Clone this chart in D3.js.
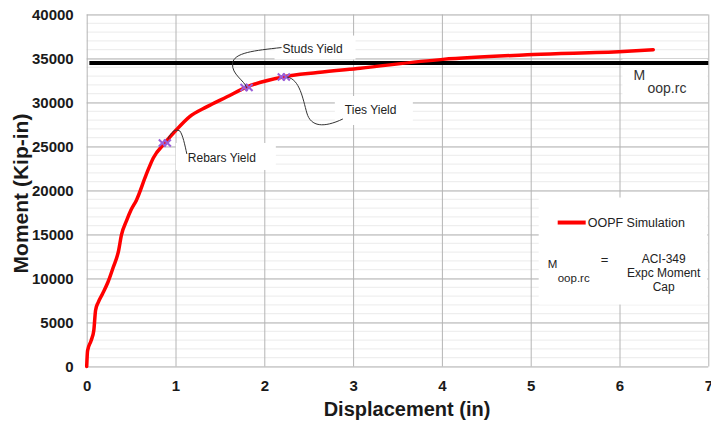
<!DOCTYPE html>
<html>
<head>
<meta charset="utf-8">
<script src="https://cdn.jsdelivr.net/npm/d3@7"></script>
<style>
  body { margin: 0; background: #fff; }
  svg { display: block; font-family: "Liberation Sans", Arial, sans-serif; }
</style>
</head>
<body>
<div id="chart"></div>
<script>
// OOPF simulation curve
const dispIn = [0, 0.01, 0.05, 0.08, 0.10, 0.13, 0.18, 0.24, 0.30, 0.36, 0.39, 0.45, 0.50, 0.56,
  0.67, 0.75, 0.88, 1.01, 1.16, 1.35, 1.58, 1.80, 2.21, 2.60, 3.08, 4.01, 5.03, 6.04, 6.38];
const momentKipIn = [0, 1800, 2960, 4100, 6400, 7300, 8300, 9600, 11300, 13200, 14900, 16600, 17800, 18900,
  21800, 23700, 25400, 26900, 28400, 29500, 30650, 31750, 32900, 33400, 33900, 34900, 35450, 35800, 36000];

// yield points
const yieldNames = ['Rebars Yield', 'Studs Yield', 'Ties Yield'];
const yieldDisp = [0.88, 1.80, 2.22];
const yieldMoment = [25400, 31700, 32900];

// ACI-349 expected moment capacity
const capMoment = 34500;

const xTicks = [0, 1, 2, 3, 4, 5, 6, 7];
const yTicks = [0, 5000, 10000, 15000, 20000, 25000, 30000, 35000, 40000];
const yMinorTicks = d3.range(0, 40001, 1000);

const W = 711, H = 425;
const margin = { top: 14.5, right: 2.7, bottom: 58.5, left: 86.7 };
const width = W - margin.left - margin.right;
const height = H - margin.top - margin.bottom;

const svg = d3.select('#chart').append('svg')
  .attr('width', W)
  .attr('height', H);

const g = svg.append('g').attr('transform', 'translate(' + margin.left + ',' + margin.top + ')');

const x = d3.scaleLinear().domain([0, 7]).range([0, width]);
const y = d3.scaleLinear().domain([0, 40000]).range([height, 0]);

// minor horizontal grid
g.append('g')
  .selectAll('line')
  .data(yMinorTicks)
  .enter().append('line')
  .attr('x1', 0).attr('x2', width)
  .attr('y1', d => y(d)).attr('y2', d => y(d))
  .attr('stroke', '#ebebeb')
  .attr('stroke-width', 1);

// major grid
g.append('g')
  .call(d3.axisLeft(y).tickValues(yTicks).tickSize(-width).tickFormat(''))
  .call(a => a.select('.domain').remove())
  .selectAll('line').attr('stroke', '#b4b4b4');

g.append('g')
  .attr('transform', 'translate(0,' + height + ')')
  .call(d3.axisBottom(x).tickValues(xTicks).tickSize(-height).tickFormat(''))
  .call(a => a.select('.domain').remove())
  .selectAll('line').attr('stroke', '#b4b4b4');

// tick labels
g.append('g')
  .call(d3.axisLeft(y).tickValues(yTicks).tickSize(0).tickPadding(13).tickFormat(d3.format('d')))
  .call(a => a.select('.domain').remove())
  .selectAll('text')
  .attr('font-size', '15px')
  .attr('font-weight', 'bold')
  .attr('fill', '#1a1a1a');

g.append('g')
  .attr('transform', 'translate(0,' + height + ')')
  .call(d3.axisBottom(x).tickValues(xTicks).tickSize(0).tickPadding(14).tickFormat(d3.format('d')))
  .call(a => a.select('.domain').remove())
  .selectAll('text')
  .attr('font-size', '15px')
  .attr('font-weight', 'bold')
  .attr('fill', '#1a1a1a');

// axis titles
svg.append('text')
  .attr('x', 407).attr('y', 416)
  .attr('text-anchor', 'middle')
  .attr('font-size', '20px')
  .attr('font-weight', 'bold')
  .attr('fill', '#1a1a1a')
  .text('Displacement (in)');

svg.append('text')
  .attr('transform', 'translate(28,193.5) rotate(-90)')
  .attr('text-anchor', 'middle')
  .attr('font-size', '21px')
  .attr('font-weight', 'bold')
  .attr('fill', '#1a1a1a')
  .text('Moment (Kip-in)');

// white text boxes sit over the grid (offsets are from each yield marker)
const labelBoxes = [
  { box: [11, 0, 100, 27], text: [23, 19] },   // Rebars
  { box: [28, -52, 81, 24], text: [36, -35] },  // Studs
  { box: [51, 19, 78, 29], text: [61, 37] }     // Ties
];

const px = yieldDisp.map(d => x(d));
const py = yieldMoment.map(d => y(d));

labelBoxes.forEach(function(b, i) {
  g.append('rect')
    .attr('x', px[i] + b.box[0]).attr('y', py[i] + b.box[1])
    .attr('width', b.box[2]).attr('height', b.box[3])
    .attr('fill', '#fff');
});

// box behind the M_oop.rc label and the legend box
g.append('rect')
  .attr('x', x(6) + 3).attr('y', y(capMoment) - 4)
  .attr('width', width - x(6) - 4).attr('height', 40)
  .attr('fill', '#fff');

const legendBox = { x: x(5.09), y: y(19200), w: width - x(5.09) - 1, h: 107 };
g.append('rect')
  .attr('x', legendBox.x).attr('y', legendBox.y)
  .attr('width', legendBox.w).attr('height', legendBox.h)
  .attr('fill', '#fff');

// capacity line
g.append('line')
  .attr('x1', x(0.03)).attr('x2', x(7))
  .attr('y1', y(capMoment)).attr('y2', y(capMoment))
  .attr('stroke', '#000')
  .attr('stroke-width', 4);

// simulation curve
const line = d3.line()
  .x((d, i) => x(dispIn[i]))
  .y(d => y(d))
  .curve(d3.curveMonotoneX);

g.append('path')
  .datum(momentKipIn)
  .attr('d', line)
  .attr('fill', 'none')
  .attr('stroke', '#ff0000')
  .attr('stroke-width', 3.5)
  .attr('stroke-linejoin', 'round')
  .attr('stroke-linecap', 'round');

// yield markers
const xSym = d3.symbol().type(d3.symbolX).size(34);
yieldDisp.forEach(function(d, i) {
  [-2.5, 2.5].forEach(function(off) {
    g.append('path')
      .attr('d', xSym())
      .attr('transform', 'translate(' + (px[i] + off) + ',' + py[i] + ')')
      .attr('fill', 'none')
      .attr('stroke', '#9a5fd8')
      .attr('stroke-width', 2);
  });
});

// callout curves, offsets from markers
const callouts = [
  'M3,-4 C6,-10 10,-15 15,-12 C18,-8 20,2 22,11',
  'M35,-40 C8,-37 -13,-35 -14,-24 C-15,-13 -2,-7 0,0',
  'M3,0 C16,2 19,22 23,36 C27,50 40,51 59,42'
];
callouts.forEach(function(c, i) {
  g.append('path')
    .attr('d', c)
    .attr('transform', 'translate(' + px[i] + ',' + py[i] + ')')
    .attr('fill', 'none')
    .attr('stroke', '#333')
    .attr('stroke-width', 1);
});

yieldNames.forEach(function(name, i) {
  g.append('text')
    .attr('x', px[i] + labelBoxes[i].text[0])
    .attr('y', py[i] + labelBoxes[i].text[1])
    .attr('font-size', '12px')
    .attr('fill', '#222')
    .text(name);
});

// M_oop.rc label next to capacity line
const mLabel = g.append('text')
  .attr('font-size', '14px')
  .attr('fill', '#333');
mLabel.append('tspan').attr('x', x(6) + 14).attr('y', y(capMoment) + 17).text('M');
mLabel.append('tspan').attr('x', x(6) + 28).attr('y', y(capMoment) + 30).text('oop.rc');

// legend
const lg = g.append('g').attr('transform', 'translate(' + legendBox.x + ',' + legendBox.y + ')');
lg.append('line')
  .attr('x1', 19).attr('x2', 47)
  .attr('y1', 25).attr('y2', 25)
  .attr('stroke', '#ff0000')
  .attr('stroke-width', 4);
lg.append('text')
  .attr('x', 49).attr('y', 29.5)
  .attr('font-size', '12.5px')
  .attr('fill', '#222')
  .text('OOPF Simulation');

const lm = lg.append('text').attr('font-size', '11.5px').attr('fill', '#222');
lm.append('tspan').attr('x', 9).attr('y', 70).text('M');
lm.append('tspan').attr('x', 19).attr('y', 84).text('oop.rc');

lg.append('text')
  .attr('x', 62).attr('y', 66)
  .attr('font-size', '13px')
  .attr('fill', '#222')
  .text('=');

const capLines = ['ACI-349', 'Expc Moment', 'Cap'];
lg.append('g')
  .selectAll('text')
  .data(capLines)
  .enter().append('text')
  .attr('x', 125)
  .attr('y', (d, i) => 65 + i * 14)
  .attr('text-anchor', 'middle')
  .attr('font-size', '12px')
  .attr('fill', '#222')
  .text(d => d);
</script>
</body>
</html>
